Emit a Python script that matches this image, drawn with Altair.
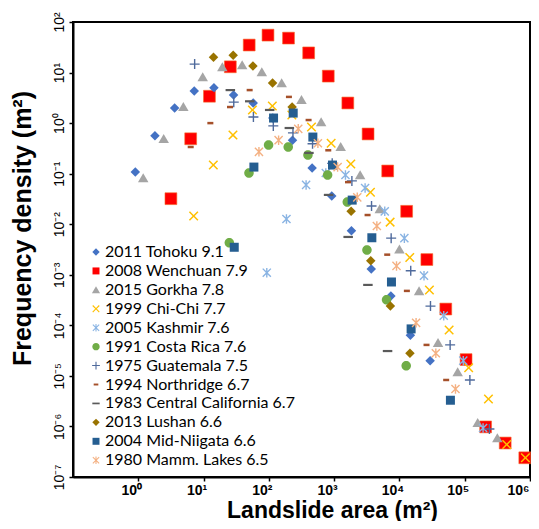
import altair as alt
import pandas as pd
import numpy as np

SERIES = ["2011 Tohoku 9.1", "2008 Wenchuan 7.9", "2015 Gorkha 7.8", "1999 Chi-Chi 7.7",
          "2005 Kashmir 7.6", "1991 Costa Rica 7.6", "1975 Guatemala 7.5", "1994 Northridge 6.7",
          "1983 Central California 6.7", "2013 Lushan 6.6", "2004 Mid-Niigata 6.6", "1980 Mamm. Lakes 6.5"]
COLORS = ["#4472C4", "#FF0000", "#A5A5A5", "#FFC000", "#8AB4E3", "#70AD47",
          "#4F6A9C", "#A5502A", "#5A5A5A", "#997300", "#255E91", "#F4B183"]

TOHOKU_X = [0.9, 1.8, 3.6, 7.2, 14.4, 28.8, 57.6, 115, 230, 460, 920, 1840, 3700, 7400, 14700, 29500]
TOHOKU_Y = [0.108, 0.56, 2.0, 4.3, 5.0, 3.6, 2.5, 1.26, 0.46, 0.13, 0.036, 0.0074, 0.0013, 3.8e-4, 6.4e-5, 2.0e-5]
WENCHUAN_X = [3.16, 6.35, 12.3, 25.7, 50, 97, 200, 407, 813, 1620, 3310, 6610, 12900, 26300, 51300,
              105000, 209000, 417000, 832000]
WENCHUAN_Y = [0.032, 0.49, 3.4, 13, 35, 55, 48, 24.5, 8.5, 2.5, 0.61, 0.113, 0.018, 0.0020, 2.1e-4,
              2.1e-5, 9.8e-7, 4.7e-7, 2.4e-7]
GORKHA_X = [1.19, 2.45, 4.9, 9.7, 19.4, 39, 78, 157, 316, 632, 1260, 2500, 5000, 10000, 20000, 39000,
            78000, 158000, 316000]
GORKHA_Y = [0.082, 0.49, 2.1, 8.2, 12.9, 14.1, 10.3, 6.2, 2.9, 1.05, 0.34, 0.094, 0.020, 0.0032, 4.8e-4,
            4.5e-5, 1.2e-5, 1.18e-6, 5.9e-7]
CHICHI_X = [7.05, 14.1, 28.2, 56, 113, 225, 450, 900, 1800, 3600, 7200, 14400, 28800, 57700, 115000,
            231000, 440000, 850000]
CHICHI_Y = [0.0145, 0.148, 0.58, 1.82, 2.18, 1.45, 0.84, 0.40, 0.155, 0.043, 0.011, 0.0022, 5.0e-4,
            8.1e-5, 1.45e-5, 3.5e-6, 4.4e-7, 2.4e-7]
KASHMIR_X = [93, 186, 372, 745, 1490, 2980, 5960, 11900, 23800, 47700, 95000, 191000]
KASHMIR_Y = [0.0011, 0.0127, 0.060, 0.103, 0.094, 0.052, 0.018, 0.0053, 9.6e-4, 1.55e-4, 2.0e-5, 9.3e-7]
COSTA_X = [24.8, 49.6, 99, 198, 397, 794, 1590, 3180, 6350, 12700]
COSTA_Y = [0.0043, 0.103, 0.37, 0.337, 0.234, 0.094, 0.0275, 0.0031, 3.2e-4, 1.58e-5]
GUATEMALA_X = [7.3, 29, 58, 117, 234, 467, 934, 1870, 3740, 7470, 14900, 29900, 59800, 120000, 239000]
GUATEMALA_Y = [14.7, 2.6, 1.32, 0.88, 0.64, 0.39, 0.16, 0.072, 0.023, 0.0053, 0.0012, 2.4e-4, 4.1e-5,
               8.3e-6, 8.9e-7]
NORTHRIDGE_X = [6.35, 12.7, 25.4, 50.8, 203, 406, 813, 1630, 3250, 6500, 13000, 26000, 52000]
NORTHRIDGE_Y = [0.337, 1.0, 2.08, 4.5, 3.3, 1.15, 0.29, 0.068, 0.0152, 0.0025, 4.8e-4, 4.1e-5, 8.3e-6]
CENTRAL_X = [25.7, 51, 103, 206, 411, 822, 1640, 3290, 6580]
CENTRAL_Y = [4.5, 2.7, 1.82, 0.80, 0.257, 0.038, 0.0056, 6.3e-4, 3.1e-5]
LUSHAN_X = [14.2, 28.4, 57, 114, 227, 1820, 3640, 7270, 14500]
LUSHAN_Y = [20, 22, 13.5, 6.2, 2.08, 0.018, 0.0019, 2.4e-4, 2.8e-5]
NIIGATA_X = [29.5, 59, 118, 236, 472, 944, 1890, 3780, 7550, 15100, 60400]
NIIGATA_Y = [0.0035, 0.135, 1.26, 1.58, 0.53, 0.148, 0.030, 0.0054, 7.2e-4, 8.5e-5, 3.3e-6]
MAMMOTH_X = [70.5, 141, 282, 564, 1130, 2260, 4510, 9020, 18000, 36100, 72200]
MAMMOTH_Y = [0.27, 0.46, 0.77, 0.40, 0.135, 0.034, 0.0092, 0.0015, 1.12e-4, 2.8e-5, 5.5e-6]

XS = [TOHOKU_X, WENCHUAN_X, GORKHA_X, CHICHI_X, KASHMIR_X, COSTA_X, GUATEMALA_X, NORTHRIDGE_X,
      CENTRAL_X, LUSHAN_X, NIIGATA_X, MAMMOTH_X]
YS = [TOHOKU_Y, WENCHUAN_Y, GORKHA_Y, CHICHI_Y, KASHMIR_Y, COSTA_Y, GUATEMALA_Y, NORTHRIDGE_Y,
      CENTRAL_Y, LUSHAN_Y, NIIGATA_Y, MAMMOTH_Y]

X_TICKS = [1, 10, 100, 1e3, 1e4, 1e5, 1e6]
Y_TICKS = [1e-7, 1e-6, 1e-5, 1e-4, 1e-3, 1e-2, 1e-1, 1, 10, 100]

rows = []
for s, xs, ys in zip(SERIES, XS, YS):
    for a, b in zip(xs, ys):
        rows.append({"series": s, "area": a, "dens": b})
df = pd.DataFrame(rows)


# ---- marker shapes (filled polygons) ----
def poly(pts):
    pts = np.asarray(pts, dtype=float)
    x, y = pts[:, 0], pts[:, 1]
    if 0.5 * np.sum(x * np.roll(y, -1) - np.roll(x, -1) * y) < 0:
        pts = pts[::-1]
    return "M" + "L".join(f"{p[0]:.3f},{p[1]:.3f}" for p in pts) + "Z"


def plus_pts(a, t):
    return [(-a, -t), (-t, -t), (-t, -a), (t, -a), (t, -t), (a, -t), (a, t), (t, t), (t, a), (-t, a),
            (-t, t), (-a, t)]


def rot45(pts):
    c = np.cos(np.pi / 4)
    return [(c * (x - y), c * (x + y)) for x, y in pts]


def rect(w, h):
    return [(-w, -h), (w, -h), (w, h), (-w, h)]


SHAPE_DIAMOND = "M0,-0.95L0.95,0L0,0.95L-0.95,0Z"
SHAPE_SQUARE = poly(rect(0.9, 0.9))
SHAPE_TRI = "M0,-0.95L1.05,0.85L-1.05,0.85Z"
SHAPE_X = poly(rot45(plus_pts(1.2, 0.15)))
SHAPE_STAR = poly(rot45(plus_pts(1.15, 0.14))) + poly(rect(0.14, 0.95))
SHAPE_CIRCLE = "M0.95,0A0.95,0.95,0,1,1,-0.95,0A0.95,0.95,0,1,1,0.95,0Z"
SHAPE_PLUS = poly(plus_pts(1.0, 0.14))
SHAPE_SDASH = poly(rect(0.6, 0.25))
SHAPE_DASH = poly(rect(0.95, 0.22))

SHAPES = [SHAPE_DIAMOND, SHAPE_SQUARE, SHAPE_TRI, SHAPE_X, SHAPE_STAR, SHAPE_CIRCLE, SHAPE_PLUS,
          SHAPE_SDASH, SHAPE_DASH, SHAPE_DIAMOND, SHAPE_SQUARE, SHAPE_STAR]

sup = "['⁰','¹','²','³','⁴','⁵','⁶','⁷','⁸','⁹'][abs(round(log(datum.value)/LN10))]"
label_expr = "'10' + (datum.value < 0.999 ? '⁻' : '') + " + sup

xscale = alt.Scale(type="log", domain=[0.1, 1e6], nice=False)
yscale = alt.Scale(type="log", domain=[1e-7, 100], nice=False)

xaxis = alt.Axis(values=X_TICKS, labelExpr=label_expr, grid=False, title="Landslide area (m²)",
                 labelFont="Liberation Sans", labelFontSize=14, labelFontWeight="bold",
                 labelColor="black", labelPadding=2, labelFlush=False,
                 labelAlign={"condition": {"test": "datum.value > 5e5", "value": "right"},
                             "value": "center"},
                 labelOffset={"condition": {"test": "datum.value > 5e5", "value": -1},
                              "value": -7},
                 tickColor="black", tickSize=4, tickWidth=1.5,
                 domainColor="black", domainWidth=2,
                 titleFont="Liberation Sans", titleFontSize=23, titleFontWeight="bold",
                 titleColor="black", titleX=259, titleY=40, titleBaseline="alphabetic",
                 titleAlign="center")
yaxis = alt.Axis(values=Y_TICKS, labelExpr=label_expr, grid=False, title="Frequency density (m²)",
                 labelFont="Liberation Sans", labelFontSize=14, labelColor="black",
                 labelAngle=270, labelAlign="center", labelBaseline="bottom", labelPadding=3,
                 labelFlush=False,
                 tickColor="black", tickSize=4, tickWidth=1.5,
                 domainColor="black", domainWidth=2,
                 titleFont="Liberation Sans", titleFontSize=25, titleFontWeight="bold",
                 titleColor="black", titleAngle=270, titleX=-43, titleY=206,
                 titleBaseline="alphabetic", titleAlign="center")

legend = alt.Legend(title=None, orient="none", legendX=15, legendY=222, symbolSize=60,
                    labelFont="Lato", labelFontSize=16, labelColor="black", rowPadding=2.93,
                    labelOffset=1, labelLimit=400, padding=0, symbolStrokeWidth=0, symbolOpacity=1)

big = alt.Chart(df).transform_filter(
    alt.datum.series == SERIES[1]
).mark_square(color="#FF0000", size=140, opacity=1, filled=True,
              stroke="#F46A2A", strokeWidth=0.6).encode(
    x=alt.X("area:Q", scale=xscale, axis=xaxis),
    y=alt.Y("dens:Q", scale=yscale, axis=yaxis),
)

main = alt.Chart(df).mark_point(filled=True, opacity=1, size=100, strokeWidth=0).encode(
    x=alt.X("area:Q", scale=xscale, axis=xaxis),
    y=alt.Y("dens:Q", scale=yscale, axis=yaxis),
    color=alt.Color("series:N", scale=alt.Scale(domain=SERIES, range=COLORS), legend=legend),
    shape=alt.Shape("series:N", scale=alt.Scale(domain=SERIES, range=SHAPES), legend=legend),
)

chart = alt.layer(big, main).properties(
    width=457, height=455,
    autosize=alt.AutoSizeParams(type="none"),
    padding={"left": 65, "top": 14, "right": 1, "bottom": 44},
    background="white",
).configure_view(stroke="black", strokeWidth=2)

chart.save("out.html", embed_options={"renderer": "svg", "actions": False})
